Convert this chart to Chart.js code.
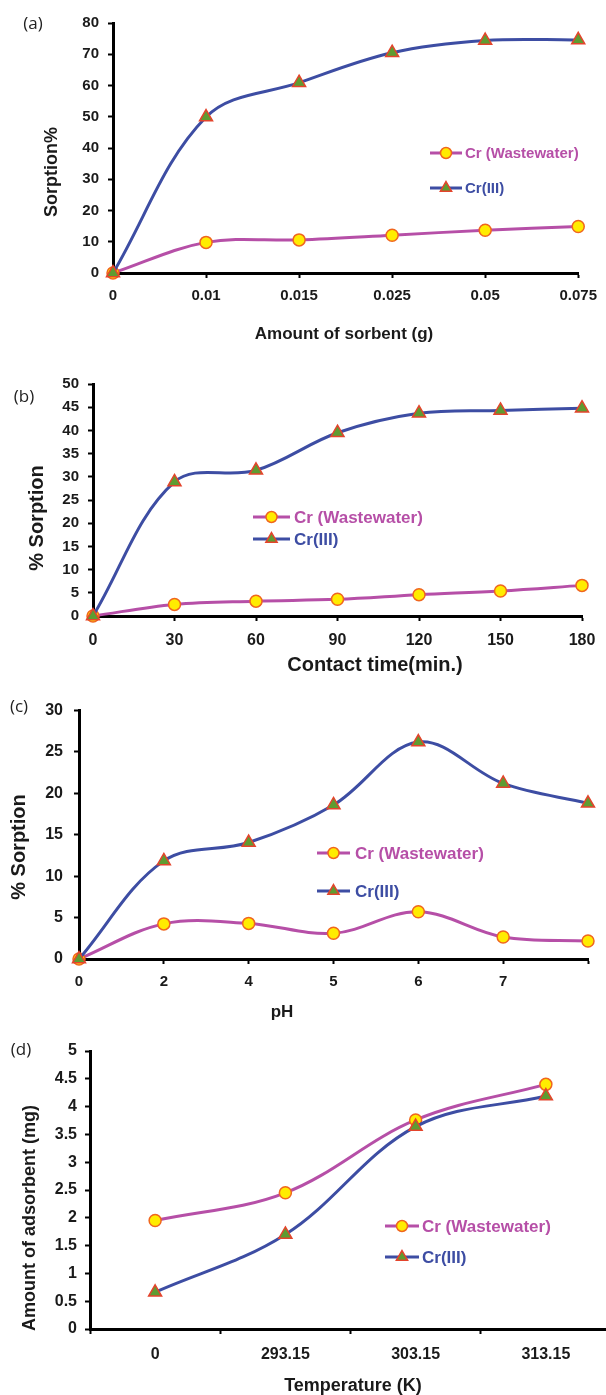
<!DOCTYPE html>
<html>
<head>
<meta charset="utf-8">
<script src="https://cdn.jsdelivr.net/npm/chart.js@4.4.0/dist/chart.umd.min.js"></script>
<style>
  html, body { margin: 0; padding: 0; background: #ffffff; }
  body { width: 606px; height: 1395px; position: relative; overflow: hidden; }
  .panel { position: absolute; left: 0; width: 606px; overflow: hidden; }
  canvas { display: block; }
</style>
</head>
<body>
<div class="panel" id="pa" style="top:0px;height:345px"><canvas id="ca" width="606" height="345"></canvas></div>
<div class="panel" id="pb" style="top:345px;height:345px"><canvas id="cb" width="606" height="345"></canvas></div>
<div class="panel" id="pc" style="top:690px;height:340px"><canvas id="cc" width="606" height="340"></canvas></div>
<div class="panel" id="pd" style="top:1030px;height:365px"><canvas id="cd" width="622" height="365"></canvas></div>
<script>
// ---------- DATA ----------
const seriesNames = ['Cr (Wastewater)', 'Cr(III)'];

// (a) Amount of sorbent
const aCategories = ['0', '0.01', '0.015', '0.025', '0.05', '0.075'];
const aWastewater = [0, 9.8, 10.6, 12.1, 13.7, 14.9];
const aCr3 = [0, 49.9, 60.9, 70.5, 74.4, 74.6];
const aYTicks = { min: 0, max: 80, step: 10 };

// (b) Contact time
const bCategories = ['0', '30', '60', '90', '120', '150', '180'];
const bWastewater = [0, 2.5, 3.2, 3.6, 4.6, 5.4, 6.6];
const bCr3 = [0, 28.9, 31.4, 39.5, 43.7, 44.3, 44.8];
const bYTicks = { min: 0, max: 50, step: 5 };

// (c) pH
const cCategories = ['0', '2', '4', '5', '6', '7', ''];
const cWastewater = [0, 4.24, 4.3, 3.1, 5.7, 2.66, 2.18];
const cCr3 = [0, 11.85, 14.07, 18.6, 26.2, 21.2, 18.8];
const cYTicks = { min: 0, max: 30, step: 5 };

// (d) Temperature
const dCategories = ['0', '293.15', '303.15', '313.15'];
const dWastewater = [1.95, 2.45, 3.76, 4.4];
const dCr3 = [0.66, 1.7, 3.64, 4.19];
const dYTicks = { min: 0, max: 5, step: 0.5 };

// ---------- STYLE ----------
const FONT = "'Liberation Sans', Arial, sans-serif";
const WW_COLOR = '#b64fa7';
const CR_COLOR = '#3d4da3';
const TXT = '#1a1a1a';

Chart.defaults.font.family = FONT;
Chart.defaults.color = TXT;

function datasets(ww, cr) {
  return [
    {
      label: seriesNames[0], data: ww, order: 2,
      borderColor: WW_COLOR, borderWidth: 3, tension: 0.36, clip: false,
      pointStyle: 'circle', pointRadius: 6, pointBackgroundColor: '#ffec00',
      pointBorderColor: '#f0661e', pointBorderWidth: 1.5
    },
    {
      label: seriesNames[1], data: cr, order: 1,
      borderColor: CR_COLOR, borderWidth: 3, tension: 0.36, clip: false,
      pointStyle: 'triangle', pointRadius: 7.5, pointBackgroundColor: '#5e9c31',
      pointBorderColor: '#e4442c', pointBorderWidth: 1.5
    }
  ];
}

const overlay = {
  id: 'overlay',
  afterDatasetsDraw(chart, args, o) {
    const ctx = chart.ctx;
    ctx.save();
    (o.texts || []).forEach(t => {
      ctx.save();
      ctx.font = (t.weight || 'bold') + ' ' + t.size + 'px ' + (t.family || FONT);
      ctx.fillStyle = t.color || TXT;
      ctx.textAlign = t.align || 'center';
      ctx.textBaseline = 'middle';
      ctx.translate(t.x, t.y);
      if (t.rotate) ctx.rotate(t.rotate);
      ctx.fillText(t.text, 0, 0);
      ctx.restore();
    });
    const L = o.legend;
    if (L) {
      chart.data.datasets.forEach((ds, i) => {
        const y = L.y[i];
        ctx.save();
        ctx.strokeStyle = ds.borderColor;
        ctx.lineWidth = 3;
        ctx.beginPath();
        ctx.moveTo(L.x1, y); ctx.lineTo(L.x2, y); ctx.stroke();
        ctx.fillStyle = ds.pointBackgroundColor;
        ctx.strokeStyle = ds.pointBorderColor;
        ctx.lineWidth = ds.pointBorderWidth;
        Chart.helpers.drawPoint(ctx, {
          pointStyle: ds.pointStyle, radius: ds.pointStyle === 'circle' ? 5.5 : 6.5,
          borderWidth: ds.pointBorderWidth, rotation: 0
        }, (L.x1 + L.x2) / 2, y);
        ctx.font = 'bold ' + L.size + 'px ' + FONT;
        ctx.fillStyle = ds.borderColor;
        ctx.textAlign = 'left';
        ctx.textBaseline = 'middle';
        ctx.fillText(ds.label, L.tx, y + 1);
        ctx.restore();
      });
    }
    ctx.restore();
  }
};

function makeChart(id, canvasTop, canvasW, canvasH, area, cats, ww, cr, yt, opts) {
  const ctx = document.getElementById(id);
  const off = v => v - canvasTop;
  const texts = opts.texts.map(t => Object.assign({}, t, { y: off(t.y) }));
  const legend = Object.assign({}, opts.legend, { y: opts.legend.y.map(off) });
  return new Chart(ctx, {
    type: 'line',
    data: { labels: cats, datasets: datasets(ww, cr) },
    plugins: [overlay],
    options: {
      responsive: false,
      animation: false,
      devicePixelRatio: 1,
      events: [],
      layout: {
        padding: { left: 0, top: area.top - canvasTop, right: canvasW - area.right, bottom: 0 }
      },
      plugins: {
        legend: { display: false },
        tooltip: { enabled: false },
        overlay: { texts: texts, legend: legend }
      },
      scales: {
        x: {
          type: 'category',
          offset: !!opts.offset,
          grid: {
            display: true, drawOnChartArea: false, offset: !!opts.offset,
            tickLength: 5, tickWidth: 2, tickColor: '#000', color: '#000'
          },
          border: { display: true, color: '#000', width: 3 },
          ticks: {
            color: TXT, padding: opts.xPad, maxRotation: 0, autoSkip: false,
            font: { size: opts.xSize, weight: 'bold', family: FONT }
          },
          afterFit: s => { s.height = canvasTop + canvasH - area.bottom; }
        },
        y: {
          min: yt.min, max: yt.max,
          grid: {
            display: true, drawOnChartArea: false,
            tickLength: 5, tickWidth: 2, tickColor: '#000', color: '#000'
          },
          border: { display: true, color: '#000', width: 3 },
          ticks: {
            stepSize: yt.step, color: TXT, padding: opts.yPad,
            font: { size: opts.ySize, weight: 'bold', family: FONT },
            callback: v => String(Math.round(v * 10) / 10)
          },
          afterFit: s => { s.width = area.left; }
        }
      }
    }
  });
}

// (a)
makeChart('ca', 0, 606, 345, { left: 113, top: 23, right: 586, bottom: 273 },
  aCategories, aWastewater, aCr3, aYTicks, {
    xSize: 15, ySize: 15, xPad: 9, yPad: 9,
    texts: [
      { text: '(a)', x: 33, y: 24, size: 17, weight: 'normal', family: "'Open Sans', sans-serif", color: '#222' },
      { text: 'Sorption%', x: 52, y: 172, size: 18, rotate: -Math.PI / 2 },
      { text: 'Amount of sorbent (g)', x: 344, y: 334, size: 17 }
    ],
    legend: { x1: 430, x2: 462, tx: 465, y: [153, 188], size: 15 }
  });

// (b)
makeChart('cb', 345, 606, 345, { left: 93, top: 384, right: 582, bottom: 616 },
  bCategories, bWastewater, bCr3, bYTicks, {
    xSize: 16, ySize: 15, xPad: 10, yPad: 9,
    texts: [
      { text: '(b)', x: 24, y: 397, size: 17, weight: 'normal', family: "'Open Sans', sans-serif", color: '#222' },
      { text: '% Sorption', x: 37, y: 518, size: 20, rotate: -Math.PI / 2 },
      { text: 'Contact time(min.)', x: 375, y: 665, size: 20 }
    ],
    legend: { x1: 253, x2: 290, tx: 294, y: [517, 539], size: 17 }
  });

// (c)
makeChart('cc', 690, 606, 340, { left: 79, top: 706, right: 588, bottom: 959 },
  cCategories, cWastewater, cCr3, cYTicks, {
    xSize: 15, ySize: 16, xPad: 9, yPad: 11,
    texts: [
      { text: '(c)', x: 19, y: 707, size: 17, weight: 'normal', family: "'Open Sans', sans-serif", color: '#222' },
      { text: '% Sorption', x: 19, y: 847, size: 20, rotate: -Math.PI / 2 },
      { text: 'pH', x: 282, y: 1012, size: 17 }
    ],
    legend: { x1: 317, x2: 350, tx: 355, y: [853, 891], size: 17 }
  });

// (d)
makeChart('cd', 1030, 622, 365, { left: 90, top: 1051, right: 611, bottom: 1329 },
  dCategories, dWastewater, dCr3, dYTicks, {
    offset: true, xSize: 16, ySize: 16, xPad: 11, yPad: 8,
    texts: [
      { text: '(d)', x: 21, y: 1050, size: 17, weight: 'normal', family: "'Open Sans', sans-serif", color: '#222' },
      { text: 'Amount of adsorbent (mg)', x: 30, y: 1218, size: 18, rotate: -Math.PI / 2 },
      { text: 'Temperature (K)', x: 353, y: 1386, size: 18 }
    ],
    legend: { x1: 385, x2: 419, tx: 422, y: [1226, 1257], size: 17 }
  });
</script>
</body>
</html>
